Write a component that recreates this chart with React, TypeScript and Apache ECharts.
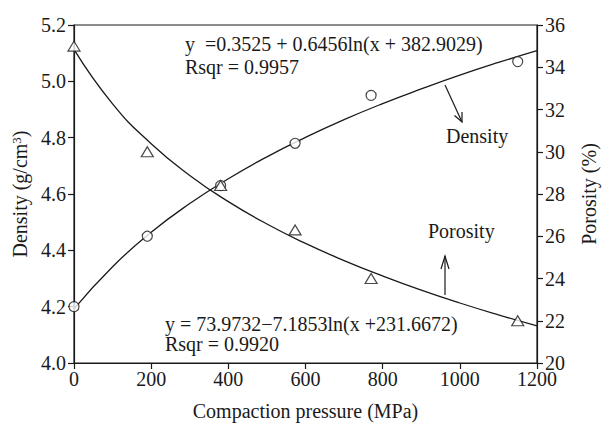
import React, { useEffect, useRef } from "react";
import * as echarts from "echarts";

// Measured points
const pressure = [0, 190, 380, 573, 770, 1150];
const densityPts = [4.2, 4.45, 4.63, 4.78, 4.95, 5.07];
const porosityPts = [35.0, 30.0, 28.4, 26.3, 24.0, 22.0];

// Fitted curves
const fitPressure = [0, 100, 200, 300, 400, 500, 600, 700, 800, 900, 1000, 1100, 1200];
const densityFit = [4.192, 4.342, 4.464, 4.566, 4.654, 4.732, 4.801, 4.864, 4.921, 4.973, 5.022, 5.067, 5.109];
const porosityFit = [34.85, 32.27, 30.38, 28.88, 27.64, 26.58, 25.66, 24.85, 24.12, 23.45, 22.84, 22.28, 21.76];

const densityEq = "y  =0.3525 + 0.6456ln(x + 382.9029)";
const densityR = "Rsqr = 0.9957";
const porosityEq = "y = 73.9732\u22127.1853ln(x +231.6672)";
const porosityR = "Rsqr = 0.9920";

const FONT = "Liberation Serif";
const INK = "#1a1a1a";

export default function App() {
  const ref = useRef<HTMLDivElement>(null);
  useEffect(() => {
    document.body.style.margin = "0";
    const chart = echarts.init(ref.current!, null, { renderer: "svg" });
    const axisCommon = {
      axisLine: { show: true, lineStyle: { color: INK, width: 1.2 } },
      axisTick: { show: true, inside: false, length: 6, lineStyle: { color: INK, width: 1.2 } },
      splitLine: { show: false },
    };
    const zip = (xs: number[], ys: number[]) => xs.map((x, i) => [x, ys[i]]);
    const txt = (text: string, left: number, top: number) => ({
      type: "text",
      left,
      top,
      style: { text, fontFamily: FONT, fontSize: 20, fill: INK },
    });
    const label = { fontFamily: FONT, fontSize: 20, color: INK };
    chart.setOption({
      animation: false,
      backgroundColor: "#fff",
      textStyle: { fontFamily: FONT },
      grid: { left: 74, right: 58, top: 25, bottom: 58, show: true, borderColor: INK, borderWidth: 1.2 },
      xAxis: {
        type: "value",
        min: 0,
        max: 1200,
        interval: 200,
        ...axisCommon,
        axisLabel: { ...label, margin: 6, formatter: (v: number) => String(v) },
        name: "Compaction pressure (MPa)",
        nameLocation: "middle",
        nameGap: 38,
        nameTextStyle: label,
      },
      yAxis: [
        {
          type: "value",
          min: 4.0,
          max: 5.2,
          interval: 0.2,
          position: "left",
          ...axisCommon,
          axisLabel: { ...label, margin: 8, formatter: (v: number) => v.toFixed(1) },
          name: "Density (g/cm{sup|3})",
          nameLocation: "middle",
          nameRotate: 90,
          nameGap: 40,
          nameTextStyle: {
            ...label,
            rich: { sup: { fontFamily: FONT, fontSize: 13, verticalAlign: "top", padding: [0, 0, 8, 0] } },
          },
        },
        {
          type: "value",
          min: 20,
          max: 36,
          interval: 2,
          position: "right",
          ...axisCommon,
          axisLabel: { ...label, margin: 8 },
          name: "Porosity (%)",
          nameLocation: "middle",
          nameRotate: 90,
          nameGap: 42,
          nameTextStyle: label,
        },
      ],
      series: [
        {
          name: "Density fit",
          type: "line",
          yAxisIndex: 0,
          data: zip(fitPressure, densityFit),
          smooth: true,
          showSymbol: false,
          lineStyle: { color: INK, width: 1.3 },
          z: 2,
        },
        {
          name: "Porosity fit",
          type: "line",
          yAxisIndex: 1,
          data: zip(fitPressure, porosityFit),
          smooth: true,
          showSymbol: false,
          lineStyle: { color: INK, width: 1.3 },
          z: 2,
        },
        {
          name: "Density",
          type: "scatter",
          yAxisIndex: 0,
          data: zip(pressure, densityPts),
          symbol: "circle",
          symbolSize: 10,
          itemStyle: { color: "#fff", borderColor: INK, borderWidth: 1.2 },
          z: 3,
        },
        {
          name: "Porosity",
          type: "scatter",
          yAxisIndex: 1,
          data: zip(pressure, porosityPts),
          symbol: "triangle",
          symbolSize: [12, 10],
          itemStyle: { color: "#fff", borderColor: INK, borderWidth: 1.2 },
          z: 3,
        },
      ],
      graphic: [
        txt(densityEq, 185, 34),
        txt(densityR, 185, 57),
        txt(porosityEq, 165, 314),
        txt(porosityR, 165, 334),
        txt("Density", 446, 126),
        txt("Porosity", 428, 221),
        { type: "line", shape: { x1: 445, y1: 85, x2: 462, y2: 122 }, style: { stroke: INK, lineWidth: 1.2 } },
        { type: "polyline", shape: { points: [[454.5, 115.5], [462, 122], [462, 112]] }, style: { stroke: INK, lineWidth: 1.2, fill: "none" } },
        { type: "line", shape: { x1: 445, y1: 295, x2: 445, y2: 256 }, style: { stroke: INK, lineWidth: 1.2 } },
        { type: "polyline", shape: { points: [[441, 269], [445, 256], [449, 269]] }, style: { stroke: INK, lineWidth: 1.2, fill: "none" } },
      ],
    });
    return () => chart.dispose();
  }, []);
  return <div ref={ref} style={{ width: 607, height: 426 }} />;
}
